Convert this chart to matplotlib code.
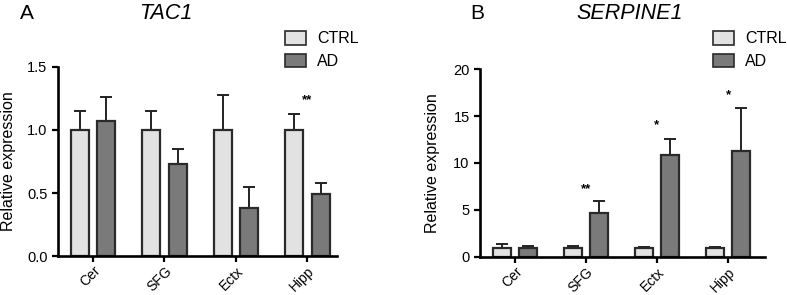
"""
TAC1 e SERPINE1: expressão relativa por região cerebral (CTRL vs AD)
"""

import numpy as np
import matplotlib
matplotlib.use("Agg")
import matplotlib.pyplot as plt
from matplotlib.transforms import ScaledTranslation

plt.rcParams['font.family'] = ['Liberation Sans', 'DejaVu Sans']

# Dados
REGIOES = ['Cer', 'SFG', 'Ectx', 'Hipp']
GRUPOS = ['CTRL', 'AD']

TAC1_CTRL = [1.0, 1.0, 1.0, 1.0]
TAC1_CTRL_ERR = [0.15, 0.15, 0.28, 0.13]
TAC1_AD = [1.07, 0.73, 0.38, 0.49]
TAC1_AD_ERR = [0.19, 0.12, 0.17, 0.09]
TAC1_SIG = ['', '', '', '**']
TAC1_SIG_Y = [None, None, None, 1.24]

SERP_CTRL = [1.0, 1.0, 1.0, 1.0]
SERP_CTRL_ERR = [0.4, 0.15, 0.1, 0.1]
SERP_AD = [1.0, 4.7, 10.9, 11.3]
SERP_AD_ERR = [0.2, 1.3, 1.7, 4.6]
SERP_SIG = ['', '**', '*', '*']
SERP_SIG_Y = [None, 7.2, 14.0, 17.2]

COR_CTRL = '#e2e2e2'
COR_AD = '#7a7a7a'
COR_BORDA = '#2a2a2a'


def painel(ax, ctrl, ctrl_err, ad, ad_err, sig, sig_y, ylim, yticks, xlim):
    x = np.arange(len(REGIOES))
    w = 0.25
    off = 0.185
    for vals, errs, cor, dx in [(ctrl, ctrl_err, COR_CTRL, -off), (ad, ad_err, COR_AD, off)]:
        ax.bar(x + dx, vals, w, color=cor, edgecolor=COR_BORDA, linewidth=1.6, zorder=2)
        ax.errorbar(x + dx, vals, yerr=[np.zeros(len(vals)), errs], fmt='none',
                    ecolor='#222222', elinewidth=1.4, capsize=4.5, capthick=1.4, zorder=1)
    for xi, s, yi in zip(x, sig, sig_y):
        if s:
            ax.text(xi, yi, s, ha='center', va='center', fontsize=9.5, fontweight='bold')
    ax.set_xlim(*xlim)
    ax.set_ylim(*ylim)
    ax.set_yticks(yticks)
    ax.set_xticks(x)
    ax.set_xticklabels(REGIOES, rotation=45, ha='right', rotation_mode='anchor', fontsize=10)
    # desloca os rótulos um pouco para a direita, como no original
    desloc = ScaledTranslation(5 / 72, 0, ax.figure.dpi_scale_trans)
    for lbl in ax.get_xticklabels():
        lbl.set_transform(lbl.get_transform() + desloc)
    ax.tick_params(axis='y', labelsize=10.5, width=1.6, length=4)
    ax.tick_params(axis='x', width=1.6, length=4, pad=1.5)
    for s in ['top', 'right']:
        ax.spines[s].set_visible(False)
    for s in ['left', 'bottom']:
        ax.spines[s].set_linewidth(1.9)
    ax.set_ylabel('Relative expression', fontsize=11.5)


fig = plt.figure(figsize=(7.87, 2.95), dpi=100)
ax1 = fig.add_axes([0.0737, 0.132, 0.355, 0.641])
ax2 = fig.add_axes([0.610, 0.129, 0.362, 0.637])

painel(ax1, TAC1_CTRL, TAC1_CTRL_ERR, TAC1_AD, TAC1_AD_ERR, TAC1_SIG, TAC1_SIG_Y,
       (0, 1.5), [0.0, 0.5, 1.0, 1.5], (-0.49, 3.42))
ax1.set_yticklabels(['0.0', '0.5', '1.0', '1.5'])
painel(ax2, SERP_CTRL, SERP_CTRL_ERR, SERP_AD, SERP_AD_ERR, SERP_SIG, SERP_SIG_Y,
       (0, 20), [0, 5, 10, 15, 20], (-0.49, 3.52))
ax1.yaxis.set_label_coords(-0.15, 0.5)
ax2.yaxis.set_label_coords(-0.14, 0.5)

# Títulos
fig.text(0.025, 0.953, 'A', fontsize=15, va='center')
fig.text(0.21, 0.953, 'TAC1', fontsize=15.5, style='italic', va='center', ha='center')
fig.text(0.598, 0.953, 'B', fontsize=15, va='center')
fig.text(0.80, 0.953, 'SERPINE1', fontsize=15.5, style='italic', va='center', ha='center')

# Legendas
for ax, xl in [(ax1, 0.362), (ax2, 0.906)]:
    h = [plt.Rectangle((0, 0), 1, 1, facecolor=c, edgecolor=COR_BORDA, linewidth=1.2)
         for c in (COR_CTRL, COR_AD)]
    ax.legend(h, GRUPOS, loc='upper left', bbox_to_anchor=(xl, 0.895),
              bbox_transform=fig.transFigure, frameon=False, fontsize=11.5,
              handlelength=1.3, handleheight=0.95, labelspacing=0.45,
              handletextpad=0.7, borderpad=0, borderaxespad=0)

fig.savefig('out.png', dpi=100)
